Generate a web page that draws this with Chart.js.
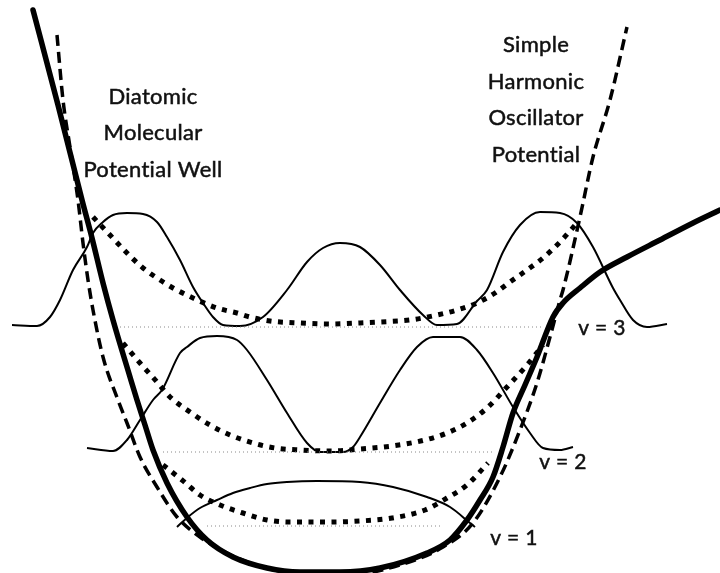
<!DOCTYPE html>
<html>
<head>
<meta charset="utf-8">
<script src="https://cdn.jsdelivr.net/npm/chart.js@4"></script>
<style>
	html, body { margin: 0; padding: 0; background: #fff; }
	#wrap { width: 720px; height: 573px; position: relative; }
</style>
</head>
<body>
<div id="wrap"><canvas id="wellChart"></canvas></div>
<script>
const morseWell = [[33,10],[58,105],[82,200],[92,238],[103,283],[113,320],[130,377],[137,400],[145,425],[153,450],[167,483],[187,517],[207,540],[233,557],[267,568],[300,572],[340,572],[380,568],[427,553],[450,540],[467,520],[480,500],[493,477],[503,447],[513,413],[525,385],[537,357],[553,317],[563,303],[580,288],[600,272],[627,257],[660,240],[693,223],[720,210]];
const harmonicWell = [[57,35],[63,100],[70,147],[78,200],[83,243],[88,280],[93,310],[103,357],[118,400],[127,423],[140,457],[157,487],[177,517],[200,537],[227,553],[250,563],[290,573],[340,576],[400,565],[443,547],[473,523],[500,477],[520,430],[537,383],[550,337],[560,300],[563,290],[580,217],[593,157],[610,100],[627,27]];

const prob3 = [[93,217],[110,235],[127,253],[143,268],[160,280],[173,288],[193,298],[217,308],[237,313],[250,317],[270,321],[300,323],[330,324],[360,323],[380,322],[410,320],[437,315],[457,310],[477,303],[495,293],[510,282],[527,270],[543,258],[560,242],[570,231],[577,223]];
const prob2 = [[123,343],[140,363],[157,382],[170,397],[190,412],[210,425],[230,435],[253,443],[275,448],[300,450],[330,451],[360,449],[392,446],[425,440],[447,433],[467,423],[487,408],[507,387],[527,365],[543,345]];
const prob1 = [[163,465],[182,480],[200,495],[220,505],[243,513],[267,520],[290,522],[330,522],[360,521],[392,518],[425,510],[447,498],[467,485],[488,463]];

const psi3 = [[12,325],[37,326],[50,317],[60,300],[73,270],[87,247],[93,233],[103,222],[113,215],[127,213],[143,214],[157,222],[167,237],[180,260],[193,287],[203,303],[213,317],[223,325],[240,326],[263,317],[287,290],[307,262],[323,248],[340,243],[360,247],[380,265],[400,290],[423,315],[437,325],[457,324],[477,301],[487,290],[503,252],[520,225],[540,212],[560,213],[577,223],[593,247],[613,288],[620,300],[633,320],[647,327],[667,324]];
const psi2 = [[87,448],[113,451],[127,440],[140,420],[153,400],[162,390],[180,353],[187,347],[200,338],[217,336],[237,340],[247,350],[267,380],[287,413],[307,443],[320,452],[343,452],[353,447],[360,437],[380,403],[400,370],[417,347],[433,337],[460,337],[477,350],[493,373],[513,407],[530,433],[543,448],[560,450],[573,447]];
const psi1 = [[177,527],[188,517],[200,508],[217,500],[233,493],[250,488],[267,484],[287,482],[317,481],[360,482],[393,487],[427,497],[450,507],[470,523],[475,527]];

const level3 = [[120,327],[543,327]];
const level2 = [[163,452],[493,452]];
const level1 = [[207,526],[442,526]];

const levelLabels = ['v = 3', 'v = 2', 'v = 1'];
const morseTitle = ['Diatomic', 'Molecular', 'Potential Well'];
const harmonicTitle = ['Simple', 'Harmonic', 'Oscillator', 'Potential'];

const pts = arr => arr.map(p => ({ x: p[0], y: p[1] }));

function curve(data, width, dash, color, cap) {
	return {
		data: pts(data),
		showLine: true,
		borderColor: color || '#000',
		borderWidth: width,
		borderDash: dash || [],
		borderCapStyle: cap || 'butt',
		pointRadius: 0,
		cubicInterpolationMode: 'monotone',
		fill: false
	};
}

// text placed in data units
const textPlugin = {
	id: 'textPlugin',
	afterDatasetsDraw(chart) {
		const { ctx, scales: { x, y } } = chart;
		ctx.save();
		ctx.fillStyle = '#111';
		ctx.strokeStyle = '#111';
		ctx.lineWidth = 0.5;
		ctx.textAlign = 'center';
		ctx.textBaseline = 'middle';
		ctx.letterSpacing = '0.3px';
		const put = (t, px, py) => {
			ctx.fillText(t, x.getPixelForValue(px), y.getPixelForValue(py));
			ctx.strokeText(t, x.getPixelForValue(px), y.getPixelForValue(py));
		};
		ctx.font = '22px Lato';
		[97, 133, 170].forEach((py, i) => put(morseTitle[i], 153, py));
		[45, 82, 118, 155].forEach((py, i) => put(harmonicTitle[i], 536, py));
		ctx.font = '21px Lato';
		put(levelLabels[0], 602, 328);
		put(levelLabels[1], 563, 462);
		put(levelLabels[2], 514, 538);
		ctx.restore();
	}
};

new Chart(document.getElementById('wellChart'), {
	type: 'scatter',
	data: {
		datasets: [
			curve(level3, 1, [1, 3], '#888'),
			curve(level2, 1, [1, 3], '#888'),
			curve(level1, 1, [1, 3], '#888'),
			curve(prob3, 5, [5, 6.5]),
			curve(prob2, 5, [5, 6.5]),
			curve(prob1, 5, [5, 6.5]),
			curve(psi3, 2),
			curve(psi2, 2),
			curve(psi1, 2),
			curve(harmonicWell, 3.5, [11, 6]),
			curve(morseWell, 5.5, [], '#000', 'round')
		]
	},
	options: {
		responsive: true,
		maintainAspectRatio: false,
		animation: false,
		layout: { padding: 0 },
		plugins: { legend: { display: false }, tooltip: { enabled: false } },
		scales: {
			x: { type: 'linear', min: 0, max: 720, display: false },
			y: { type: 'linear', min: 0, max: 573, reverse: true, display: false }
		}
	},
	plugins: [textPlugin]
});
</script>
</body>
</html>
